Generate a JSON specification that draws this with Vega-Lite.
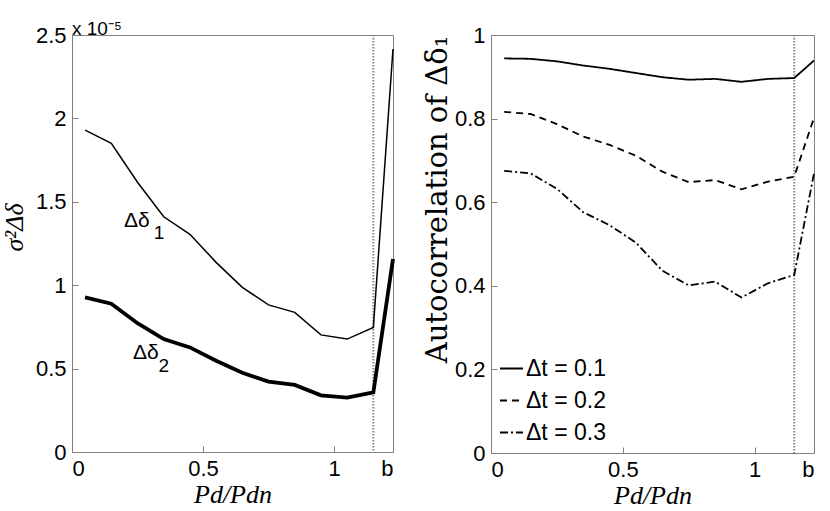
{
  "$schema": "https://vega.github.io/schema/vega-lite/v6.json",
  "background": "white",
  "padding": {"left": 0, "top": 19, "right": 5, "bottom": 5},
  "bounds": "flush",
  "spacing": 98,
  "resolve": {"scale": {"strokeDash": "independent", "strokeWidth": "independent"}, "legend": {"strokeDash": "independent", "strokeWidth": "independent"}},
  "config": {
    "view": {"stroke": "#808080", "strokeWidth": 1},
    "axis": {
      "grid": false,
      "domainColor": "#808080",
      "tickColor": "#808080",
      "tickSize": -6,
      "labelFont": "Liberation Sans",
      "labelFontSize": 22,
      "labelColor": "black",
      "labelPadding": 12,
      "titleColor": "black",
      "titleFontWeight": "normal"
    }
  },
  "datasets": {
    "variance": [
      {"ratio": 0.05, "value": 1.93e-5, "series": "Δδ1"},
      {"ratio": 0.15, "value": 1.85e-5, "series": "Δδ1"},
      {"ratio": 0.25, "value": 1.617e-5, "series": "Δδ1"},
      {"ratio": 0.35, "value": 1.41e-5, "series": "Δδ1"},
      {"ratio": 0.45, "value": 1.305e-5, "series": "Δδ1"},
      {"ratio": 0.55, "value": 1.137e-5, "series": "Δδ1"},
      {"ratio": 0.65, "value": 0.987e-5, "series": "Δδ1"},
      {"ratio": 0.75, "value": 0.882e-5, "series": "Δδ1"},
      {"ratio": 0.85, "value": 0.837e-5, "series": "Δδ1"},
      {"ratio": 0.95, "value": 0.702e-5, "series": "Δδ1"},
      {"ratio": 1.05, "value": 0.677e-5, "series": "Δδ1"},
      {"ratio": 1.15, "value": 0.747e-5, "series": "Δδ1"},
      {"ratio": 1.225, "value": 2.416e-5, "series": "Δδ1"},
      {"ratio": 0.05, "value": 0.927e-5, "series": "Δδ2"},
      {"ratio": 0.15, "value": 0.889e-5, "series": "Δδ2"},
      {"ratio": 0.25, "value": 0.772e-5, "series": "Δδ2"},
      {"ratio": 0.35, "value": 0.677e-5, "series": "Δδ2"},
      {"ratio": 0.45, "value": 0.627e-5, "series": "Δδ2"},
      {"ratio": 0.55, "value": 0.547e-5, "series": "Δδ2"},
      {"ratio": 0.65, "value": 0.475e-5, "series": "Δδ2"},
      {"ratio": 0.75, "value": 0.422e-5, "series": "Δδ2"},
      {"ratio": 0.85, "value": 0.402e-5, "series": "Δδ2"},
      {"ratio": 0.95, "value": 0.34e-5, "series": "Δδ2"},
      {"ratio": 1.05, "value": 0.326e-5, "series": "Δδ2"},
      {"ratio": 1.15, "value": 0.357e-5, "series": "Δδ2"},
      {"ratio": 1.225, "value": 1.157e-5, "series": "Δδ2"}
    ],
    "autocorr": [
      {"ratio": 0.05, "value": 0.944, "series": "Δt = 0.1"},
      {"ratio": 0.15, "value": 0.943, "series": "Δt = 0.1"},
      {"ratio": 0.25, "value": 0.937, "series": "Δt = 0.1"},
      {"ratio": 0.35, "value": 0.927, "series": "Δt = 0.1"},
      {"ratio": 0.45, "value": 0.919, "series": "Δt = 0.1"},
      {"ratio": 0.55, "value": 0.909, "series": "Δt = 0.1"},
      {"ratio": 0.65, "value": 0.899, "series": "Δt = 0.1"},
      {"ratio": 0.75, "value": 0.893, "series": "Δt = 0.1"},
      {"ratio": 0.85, "value": 0.895, "series": "Δt = 0.1"},
      {"ratio": 0.95, "value": 0.888, "series": "Δt = 0.1"},
      {"ratio": 1.05, "value": 0.895, "series": "Δt = 0.1"},
      {"ratio": 1.15, "value": 0.897, "series": "Δt = 0.1"},
      {"ratio": 1.225, "value": 0.939, "series": "Δt = 0.1"},
      {"ratio": 0.05, "value": 0.816, "series": "Δt = 0.2"},
      {"ratio": 0.15, "value": 0.811, "series": "Δt = 0.2"},
      {"ratio": 0.25, "value": 0.787, "series": "Δt = 0.2"},
      {"ratio": 0.35, "value": 0.757, "series": "Δt = 0.2"},
      {"ratio": 0.45, "value": 0.737, "series": "Δt = 0.2"},
      {"ratio": 0.55, "value": 0.711, "series": "Δt = 0.2"},
      {"ratio": 0.65, "value": 0.673, "series": "Δt = 0.2"},
      {"ratio": 0.75, "value": 0.648, "series": "Δt = 0.2"},
      {"ratio": 0.85, "value": 0.653, "series": "Δt = 0.2"},
      {"ratio": 0.95, "value": 0.631, "series": "Δt = 0.2"},
      {"ratio": 1.05, "value": 0.649, "series": "Δt = 0.2"},
      {"ratio": 1.15, "value": 0.661, "series": "Δt = 0.2"},
      {"ratio": 1.225, "value": 0.802, "series": "Δt = 0.2"},
      {"ratio": 0.05, "value": 0.675, "series": "Δt = 0.3"},
      {"ratio": 0.15, "value": 0.669, "series": "Δt = 0.3"},
      {"ratio": 0.25, "value": 0.632, "series": "Δt = 0.3"},
      {"ratio": 0.35, "value": 0.576, "series": "Δt = 0.3"},
      {"ratio": 0.45, "value": 0.545, "series": "Δt = 0.3"},
      {"ratio": 0.55, "value": 0.503, "series": "Δt = 0.3"},
      {"ratio": 0.65, "value": 0.436, "series": "Δt = 0.3"},
      {"ratio": 0.75, "value": 0.401, "series": "Δt = 0.3"},
      {"ratio": 0.85, "value": 0.41, "series": "Δt = 0.3"},
      {"ratio": 0.95, "value": 0.372, "series": "Δt = 0.3"},
      {"ratio": 1.05, "value": 0.406, "series": "Δt = 0.3"},
      {"ratio": 1.15, "value": 0.426, "series": "Δt = 0.3"},
      {"ratio": 1.225, "value": 0.669, "series": "Δt = 0.3"}
    ],
    "marker": [{"ratio": 1.15}],
    "labels": [
      {"ratio": 0.198, "value": 1.349e-5, "text": "Δδ", "size": "main"},
      {"ratio": 0.312, "value": 1.277e-5, "text": "1", "size": "sub"},
      {"ratio": 0.233, "value": 0.558e-5, "text": "Δδ", "size": "main"},
      {"ratio": 0.33, "value": 0.48e-5, "text": "2", "size": "sub"}
    ]
  },
  "hconcat": [
    {
      "width": 321,
      "height": 417,
      "title": {
        "text": "x 10⁻⁵",
        "anchor": "start",
        "frame": "group",
        "font": "Liberation Sans",
        "fontSize": 19,
        "fontWeight": "normal",
        "offset": -15
      },
      "layer": [
        {
          "data": {"name": "marker"},
          "mark": {"type": "rule", "color": "#8a8a8a", "strokeWidth": 2, "strokeDash": [1.5, 1.5]},
          "encoding": {
            "x": {"field": "ratio", "type": "quantitative"}
          }
        },
        {
          "data": {"name": "variance"},
          "mark": {"type": "line", "color": "black"},
          "encoding": {
            "x": {
              "field": "ratio", "type": "quantitative",
              "scale": {"domain": [0, 1.225], "nice": false, "zero": false},
              "axis": {
                "values": [0, 0.5, 1, 1.225],
                "labelExpr": "datum.value > 1.2 ? 'b' : format(datum.value, '~g')",
                "title": "Pd/Pdn",
                "titleFont": "Liberation Serif",
                "titleFontStyle": "italic",
                "titleFontSize": 26,
                "titlePadding": 2
              }
            },
            "y": {
              "field": "value", "type": "quantitative",
              "scale": {"domain": [0, 2.5e-5], "nice": false},
              "axis": {
                "values": [0, 0.5e-5, 1e-5, 1.5e-5, 2e-5, 2.5e-5],
                "labelExpr": "format(datum.value * 100000, '.2~f')",
                "title": "σ²Δδ",
                "titleFont": "Liberation Serif",
                "titleFontStyle": "italic",
                "titleFontSize": 26,
                "titlePadding": 8,
                "titleY": 192
              }
            },
            "detail": {"field": "series"},
            "strokeWidth": {
              "field": "series", "type": "nominal",
              "scale": {"domain": ["Δδ1", "Δδ2"], "range": [1.5, 3.8]},
              "legend": null
            }
          }
        },
        {
          "data": {"name": "labels"},
          "mark": {"type": "text", "align": "left", "baseline": "alphabetic", "font": "Liberation Sans", "color": "black"},
          "encoding": {
            "x": {"field": "ratio", "type": "quantitative"},
            "y": {"field": "value", "type": "quantitative"},
            "text": {"field": "text"},
            "size": {
              "field": "size", "type": "nominal",
              "scale": {"domain": ["main", "sub"], "range": [21, 19]},
              "legend": null
            }
          }
        }
      ]
    },
    {
      "width": 323,
      "height": 418,
      "layer": [
        {
          "data": {"name": "marker"},
          "mark": {"type": "rule", "color": "#8a8a8a", "strokeWidth": 2, "strokeDash": [1.5, 1.5]},
          "encoding": {
            "x": {"field": "ratio", "type": "quantitative"}
          }
        },
        {
          "data": {"name": "autocorr"},
          "mark": {"type": "line", "color": "black", "strokeWidth": 1.8},
          "encoding": {
            "x": {
              "field": "ratio", "type": "quantitative",
              "scale": {"domain": [0, 1.225], "nice": false, "zero": false},
              "axis": {
                "values": [0, 0.5, 1, 1.225],
                "labelExpr": "datum.value > 1.2 ? 'b' : format(datum.value, '~g')",
                "title": "Pd/Pdn",
                "titleFont": "Liberation Serif",
                "titleFontStyle": "italic",
                "titleFontSize": 26,
                "titlePadding": 2
              }
            },
            "y": {
              "field": "value", "type": "quantitative",
              "scale": {"domain": [0, 1], "nice": false},
              "axis": {
                "values": [0, 0.2, 0.4, 0.6, 0.8, 1],
                "labelExpr": "format(datum.value, '.1~f')",
                "title": "Autocorrelation of Δδ₁",
                "titleFont": "DejaVu Serif",
                "titleFontSize": 29,
                "titlePadding": 2,
                "titleY": 164
              }
            },
            "strokeDash": {
              "field": "series", "type": "nominal",
              "scale": {"domain": ["Δt = 0.1", "Δt = 0.2", "Δt = 0.3"], "range": [[1, 0], [7, 5], [8, 3, 2, 3]]},
              "legend": {
                "orient": "bottom-left",
                "title": null,
                "offset": 8,
                "padding": 0,
                "symbolType": "stroke",
                "symbolSize": 529,
                "symbolStrokeWidth": 1.8,
                "symbolStrokeColor": "black",
                "labelFont": "Liberation Sans",
                "labelFontSize": 23,
                "labelColor": "black",
                "labelOffset": 2,
                "rowPadding": 7
              }
            }
          }
        }
      ]
    }
  ]
}
